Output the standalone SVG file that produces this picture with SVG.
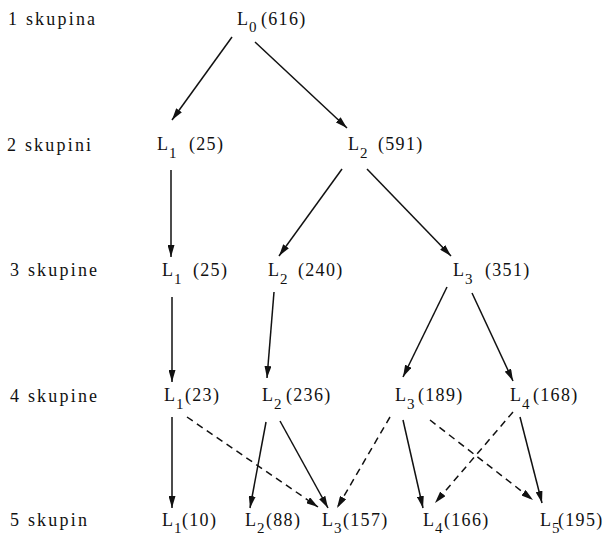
<svg xmlns="http://www.w3.org/2000/svg" width="611" height="536" viewBox="0 0 611 536">
  <style>
    text { font-family: "Liberation Serif", "Times New Roman", serif; font-size: 18px; fill: #111; }
    .row { letter-spacing: 2.2px; }
    .num { letter-spacing: 1.3px; }
    .sub { font-size: 15px; }
    .edge { stroke: #111; stroke-width: 1.5; fill: none; marker-end: url(#arrow); }
    .dash { stroke-dasharray: 7 5; }
  </style>
  <defs>
    <marker id="arrow" viewBox="0 0 12 7" refX="12" refY="3.5" markerWidth="12" markerHeight="7" markerUnits="userSpaceOnUse" orient="auto">
      <path d="M0,0 L12,3.5 L0,7 z" fill="#111"/>
    </marker>
  </defs>

  <!-- level labels -->
  <g id="levels">
    <text class="row" x="8" y="25">1 skupina</text>
    <text class="row" x="7" y="151">2 skupini</text>
    <text class="row" x="10" y="276">3 skupine</text>
    <text class="row" x="10" y="402">4 skupine</text>
    <text class="row" x="10" y="526">5 skupin</text>
  </g>

  <!-- level 1 -->
  <g id="n-L0"><text x="237" y="25">L<tspan class="sub" x="249" dy="7">0</tspan><tspan class="num" x="261" dy="-7">(616)</tspan></text></g>

  <!-- level 2 -->
  <g id="n2-L1"><text x="157" y="150">L<tspan class="sub" x="169" dy="8">1</tspan><tspan class="num" x="189" dy="-8">(25)</tspan></text></g>
  <g id="n2-L2"><text x="348" y="150">L<tspan class="sub" x="360" dy="8">2</tspan><tspan class="num" x="378" dy="-8">(591)</tspan></text></g>

  <!-- level 3 -->
  <g id="n3-L1"><text x="162" y="276">L<tspan class="sub" x="174" dy="8">1</tspan><tspan class="num" x="193" dy="-8">(25)</tspan></text></g>
  <g id="n3-L2"><text x="268" y="276">L<tspan class="sub" x="280" dy="8">2</tspan><tspan class="num" x="298" dy="-8">(240)</tspan></text></g>
  <g id="n3-L3"><text x="453" y="276">L<tspan class="sub" x="465" dy="8">3</tspan><tspan class="num" x="485" dy="-8">(351)</tspan></text></g>

  <!-- level 4 -->
  <g id="n4-L1"><text x="164" y="401">L<tspan class="sub" x="176" dy="8">1</tspan><tspan class="num" x="185" dy="-8">(23)</tspan></text></g>
  <g id="n4-L2"><text x="262" y="401">L<tspan class="sub" x="274" dy="8">2</tspan><tspan class="num" x="286" dy="-8">(236)</tspan></text></g>
  <g id="n4-L3"><text x="395" y="401">L<tspan class="sub" x="407" dy="8">3</tspan><tspan class="num" x="418" dy="-8">(189)</tspan></text></g>
  <g id="n4-L4"><text x="510" y="401">L<tspan class="sub" x="522" dy="8">4</tspan><tspan class="num" x="533" dy="-8">(168)</tspan></text></g>

  <!-- level 5 -->
  <g id="n5-L1"><text x="162" y="526">L<tspan class="sub" x="174" dy="7">1</tspan><tspan class="num" x="182" dy="-7">(10)</tspan></text></g>
  <g id="n5-L2"><text x="245" y="526">L<tspan class="sub" x="257" dy="7">2</tspan><tspan class="num" x="266" dy="-7">(88)</tspan></text></g>
  <g id="n5-L3"><text x="322" y="526">L<tspan class="sub" x="334" dy="7">3</tspan><tspan class="num" x="343" dy="-7">(157)</tspan></text></g>
  <g id="n5-L4"><text x="423" y="526">L<tspan class="sub" x="435" dy="7">4</tspan><tspan class="num" x="444" dy="-7">(166)</tspan></text></g>
  <g id="n5-L5"><text x="540" y="526">L<tspan class="sub" x="552" dy="7">5</tspan><tspan class="num" x="558" dy="-7">(195)</tspan></text></g>

  <!-- connectors -->
  <g id="edges">
    <line class="edge" x1="232" y1="37" x2="172" y2="120"/>
    <line class="edge" x1="255" y1="42" x2="347" y2="128"/>

    <line class="edge" x1="171" y1="170" x2="171" y2="257"/>
    <line class="edge" x1="342" y1="169" x2="279" y2="256"/>
    <line class="edge" x1="367" y1="169" x2="451" y2="256"/>

    <line class="edge" x1="172" y1="297" x2="172" y2="382"/>
    <line class="edge" x1="274" y1="292" x2="267" y2="378"/>
    <line class="edge" x1="447" y1="287" x2="403" y2="377"/>
    <line class="edge" x1="472" y1="293" x2="513" y2="381"/>

    <line class="edge" x1="172" y1="417" x2="172" y2="508"/>
    <line class="edge dash" x1="187" y1="417" x2="318" y2="507"/>
    <line class="edge" x1="266" y1="422" x2="250" y2="508"/>
    <line class="edge" x1="280" y1="421" x2="328" y2="508"/>
    <line class="edge dash" x1="390" y1="417" x2="337" y2="508"/>
    <line class="edge" x1="403" y1="420" x2="423" y2="508"/>
    <line class="edge dash" x1="513" y1="412" x2="435" y2="503"/>
    <line class="edge dash" x1="430" y1="420" x2="533" y2="500"/>
    <line class="edge" x1="520" y1="417" x2="542" y2="503"/>
  </g>
</svg>
